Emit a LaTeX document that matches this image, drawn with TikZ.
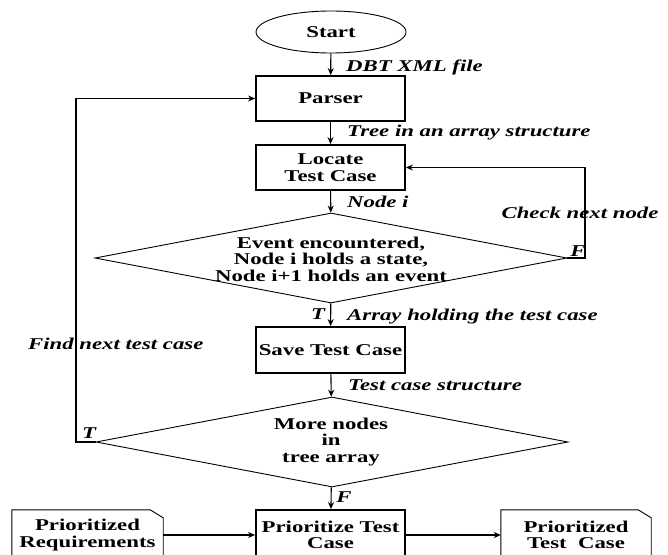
\documentclass[tikz,border=0pt]{standalone}
\usepackage{fontspec}
\setmainfont{Liberation Serif}[FakeStretch=1.38]
\usetikzlibrary{shapes.geometric,arrows.meta}
\begin{document}
\begin{tikzpicture}[x=1pt,y=-1pt,
  every node/.style={font=\fontsize{16.5}{16.5}\selectfont\bfseries},
  procbox/.style={draw,line width=1.8pt,minimum width=149pt,minimum height=45pt,align=center,inner sep=0pt},
  startnode/.style={draw,ellipse,line width=0.9pt,minimum width=150pt,minimum height=42pt,inner sep=0pt},
  decision/.style={draw,diamond,line width=0.9pt,inner sep=0pt},
  docbox/.style={minimum width=151pt,minimum height=50pt,align=center,inner sep=0pt},
  lbl/.style={font=\fontsize{16.5}{16.5}\selectfont\bfseries\itshape,inner sep=0pt},
  txt/.style={align=center,inner sep=0pt},
  flow/.style={line width=1.1pt,-{Stealth[length=7pt,width=6pt]}},
  plain/.style={line width=1.1pt}]
\useasboundingbox[fill=white] (0,0) rectangle (668,554);
\clip (0,0) rectangle (668,554);

\node[startnode] (start) at (331,32) {Start};
\node[procbox] (parser) at (330.5,98.5) {Parser};
\node[procbox] (locate) at (330.5,167.5) {Locate\\Test Case};
\node[decision,minimum width=472pt,minimum height=90pt] (d1) at (331,258) {};
\node[txt] (d1t) at (331,259) {Event encountered,\\Node i holds a state,\\Node i+1 holds an event};
\node[procbox,minimum height=46pt] (save) at (330.5,350) {Save Test Case};
\node[decision,minimum width=472pt,minimum height=90pt] (d2) at (332,442) {};
\node[txt] (d2t) at (331,442) {More nodes\\in\\tree array};
\node[procbox,minimum height=50pt] (prio) at (330.5,535) {Prioritize Test\\Case};
\node[docbox] (req) at (87.5,535) {Prioritized\\Requirements};
\node[docbox,minimum width=150pt] (out) at (576,535) {Prioritized\\Test~ Case};

\draw[line width=0.9pt] (req.south west) -- (req.north west) -- ([xshift=-13pt]req.north east) -- ([yshift=-8pt]req.north east) -- (req.south east);
\draw[line width=0.9pt] (out.south west) -- (out.north west) -- ([xshift=-13pt]out.north east) -- ([yshift=-8pt]out.north east) -- (out.south east);

\coordinate (rc) at (585,258);
\coordinate (lc) at (76,442);

\draw[flow] (start) -- (parser);
\draw[flow] (parser) -- (locate);
\draw[flow] (locate) -- (d1);
\draw[flow] (d1) -- (save);
\draw[flow] (save) -- (d2);
\draw[flow] (d2) -- (prio);
\draw[flow] (d1.east) -- (rc) |- (locate.east);
\draw[flow] (d2.west) -- (lc) |- (parser.west);
\draw[flow] (req.east) -- (prio.west);
\draw[flow] (prio.east) -- (out.west);

\node[lbl,anchor=west] (l1) at (346,67) {DBT XML file};
\node[lbl,anchor=west] (l2) at (347,133) {Tree in an array structure};
\node[lbl,anchor=west] (l3) at (347,202) {Node i};
\node[lbl] (l4) at (580,213) {Check next node};
\node[lbl] (f1) at (578,251) {F};
\node[lbl] (t1) at (318,314) {T};
\node[lbl,anchor=west] (l5) at (347,317) {Array holding the test case};
\node[lbl,anchor=west] (l6) at (28,344) {Find next test case};
\node[lbl,anchor=west] (l7) at (348,385) {Test case structure};
\node[lbl] (t2) at (89,433) {T};
\node[lbl] (f2) at (344,497) {F};
\end{tikzpicture}
\end{document}
